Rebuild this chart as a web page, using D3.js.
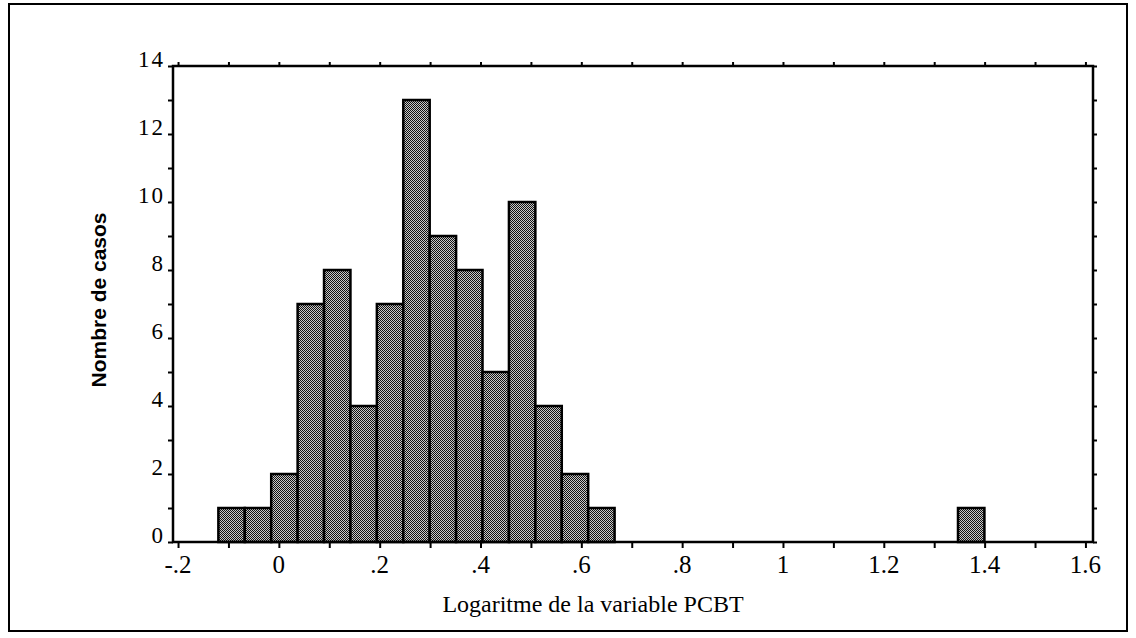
<!DOCTYPE html>
<html>
<head>
<meta charset="utf-8">
<script src="https://cdn.jsdelivr.net/npm/d3@7"></script>
<style>
  html, body { margin: 0; padding: 0; background: #fff; }
  svg { display: block; }
</style>
</head>
<body>
<svg id="chart" width="1136" height="638"></svg>
<script>
// Histogram of log10(PCBT): counts per bin, bins of equal width starting at binStart
const binStart = -0.12;
const binWidth = 0.0524;
const counts = [1, 1, 2, 7, 8, 4, 7, 13, 9, 8, 5, 10, 4, 2, 1,
                0, 0, 0, 0, 0, 0, 0, 0, 0, 0, 0, 0, 0, 1];

const xTickValues = [-0.2, 0, 0.2, 0.4, 0.6, 0.8, 1, 1.2, 1.4, 1.6];
const xTickLabels = ["-.2", "0", ".2", ".4", ".6", ".8", "1", "1.2", "1.4", "1.6"];
const yTickValues = [0, 2, 4, 6, 8, 10, 12, 14];
const yTickLabels = ["0", "2", "4", "6", "8", "10", "12", "14"];

const xTitle = "Logaritme de la variable PCBT";
const yTitle = "Nombre de casos";

const bins = counts.map((c, i) => ({
  x0: binStart + i * binWidth,
  x1: binStart + (i + 1) * binWidth,
  count: c
})).filter(d => d.count > 0);

const svg = d3.select("#chart");
const plot = { left: 173, right: 1093, top: 66, bottom: 542 };

const x = d3.scaleLinear().domain([-0.21, 1.615]).range([plot.left, plot.right]);
const y = d3.scaleLinear().domain([0, 14]).range([plot.bottom, plot.top]);

// halftone-like fill for the bars
const defs = svg.append("defs");
const pat = defs.append("pattern")
  .attr("id", "dither").attr("width", 2).attr("height", 2)
  .attr("patternUnits", "userSpaceOnUse");
pat.append("rect").attr("width", 2).attr("height", 2).attr("fill", "#c8c8c8");
pat.append("rect").attr("x", 0).attr("y", 0).attr("width", 1).attr("height", 1).attr("fill", "#111");
pat.append("rect").attr("x", 1).attr("y", 1).attr("width", 1).attr("height", 1).attr("fill", "#111");

// outer frame
svg.append("rect")
  .attr("x", 9).attr("y", 4).attr("width", 1118).attr("height", 627)
  .attr("fill", "none").attr("stroke", "#000").attr("stroke-width", 2);

// bars
svg.append("g").selectAll("rect").data(bins).join("rect")
  .attr("x", d => x(d.x0))
  .attr("y", d => y(d.count))
  .attr("width", d => x(d.x1) - x(d.x0))
  .attr("height", d => y(0) - y(d.count))
  .attr("fill", "url(#dither)")
  .attr("stroke", "#000")
  .attr("stroke-width", 2.5);

// minor/major ticks on all four sides
const xTicksAll = d3.range(-2, 17).map(i => i / 10);
const yTicksAll = d3.range(0, 15);
const serif = "'Liberation Serif', 'Times New Roman', serif";

svg.append("g")
  .attr("transform", `translate(0,${plot.bottom})`)
  .call(d3.axisBottom(x).tickValues(xTicksAll).tickSize(6).tickFormat(""))
  .call(g => g.select(".domain").remove())
  .call(g => g.selectAll("line").attr("stroke-width", 2));

svg.append("g")
  .attr("transform", `translate(0,${plot.top})`)
  .call(d3.axisTop(x).tickValues(xTicksAll).tickSize(4).tickFormat(""))
  .call(g => g.select(".domain").remove())
  .call(g => g.selectAll("line").attr("stroke-width", 2));

svg.append("g")
  .attr("transform", `translate(${plot.left},0)`)
  .call(d3.axisLeft(y).tickValues(yTicksAll).tickSize(5).tickFormat(""))
  .call(g => g.select(".domain").remove())
  .call(g => g.selectAll("line").attr("stroke-width", 2));

svg.append("g")
  .attr("transform", `translate(${plot.right},0)`)
  .call(d3.axisRight(y).tickValues(yTicksAll).tickSize(4).tickFormat(""))
  .call(g => g.select(".domain").remove())
  .call(g => g.selectAll("line").attr("stroke-width", 2));

// plot border
svg.append("rect")
  .attr("x", plot.left).attr("y", plot.top)
  .attr("width", plot.right - plot.left).attr("height", plot.bottom - plot.top)
  .attr("fill", "none").attr("stroke", "#000").attr("stroke-width", 2.5);

// x tick labels
svg.append("g").selectAll("text").data(xTickValues).join("text")
  .attr("x", d => x(d))
  .attr("y", plot.bottom + 31)
  .attr("text-anchor", "middle")
  .attr("font-family", serif)
  .attr("font-size", 25)
  .attr("fill", "#000")
  .text((d, i) => xTickLabels[i]);

// y tick labels
svg.append("g").selectAll("text").data(yTickValues).join("text")
  .attr("x", plot.left - 8)
  .attr("y", d => y(d) + 1)
  .attr("text-anchor", "end")
  .attr("font-family", serif)
  .attr("font-size", 23)
  .attr("letter-spacing", 2)
  .attr("fill", "#000")
  .text((d, i) => yTickLabels[i]);

// axis titles
svg.append("text")
  .attr("x", 593)
  .attr("y", 612)
  .attr("text-anchor", "middle")
  .attr("font-family", serif)
  .attr("font-size", 24)
  .attr("fill", "#000")
  .text(xTitle);

svg.append("text")
  .attr("transform", `translate(106,300) rotate(-90)`)
  .attr("text-anchor", "middle")
  .attr("font-family", "'Liberation Sans', Arial, sans-serif")
  .attr("font-size", 21)
  .attr("font-weight", 600)
  .attr("fill", "#000")
  .text(yTitle);
</script>
</body>
</html>
